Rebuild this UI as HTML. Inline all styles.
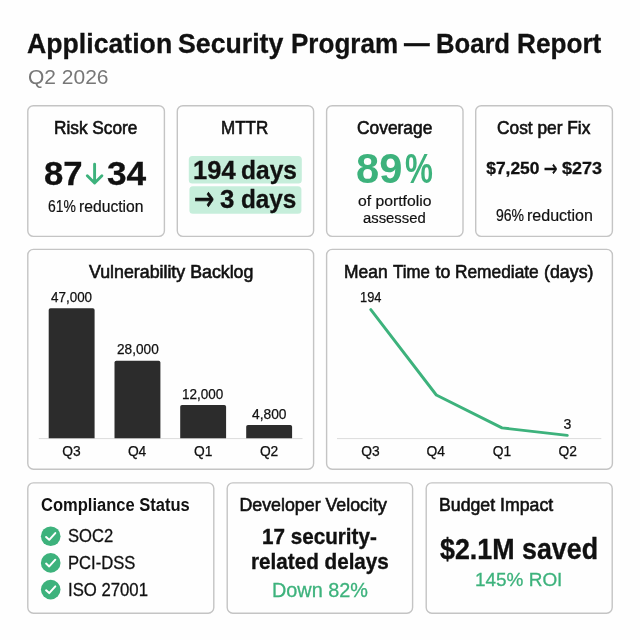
<!DOCTYPE html>
<html lang="en">
<head>
<meta charset="utf-8">
<title>Application Security Program — Board Report</title>
<style>
html,body{margin:0;padding:0;}
body{width:640px;height:640px;overflow:hidden;background:#fefefe;position:relative;font-family:"Liberation Sans",sans-serif;color:#111111;}
svg.g{position:absolute;left:0;top:0;}
.t{position:absolute;white-space:nowrap;line-height:1;transform-origin:0 0;}
</style>
</head>
<body>
<svg class="g" width="640" height="640" viewBox="0 0 640 640">
<g fill="none" stroke="#c4c4c4" stroke-width="1.4">
<rect x="27.8" y="105.7" width="136.60" height="130.70" rx="5.6" ry="5.6"/>
<rect x="177.3" y="105.7" width="136.30" height="130.70" rx="5.6" ry="5.6"/>
<rect x="326.6" y="105.7" width="136.40" height="130.70" rx="5.6" ry="5.6"/>
<rect x="475.7" y="105.7" width="136.70" height="130.70" rx="5.6" ry="5.6"/>
<rect x="27.8" y="249.4" width="285.80" height="219.80" rx="5.6" ry="5.6"/>
<rect x="326.6" y="249.4" width="285.80" height="219.80" rx="5.6" ry="5.6"/>
<rect x="27.8" y="482.9" width="186.00" height="130.30" rx="5.6" ry="5.6"/>
<rect x="227.2" y="482.9" width="185.40" height="130.30" rx="5.6" ry="5.6"/>
<rect x="426.2" y="482.9" width="186.00" height="130.30" rx="5.6" ry="5.6"/>
</g>
<g fill="#c6eedb">
<rect x="188.8" y="156" width="113" height="27.6" rx="3.5"/>
<rect x="189.4" y="186.3" width="112" height="27.5" rx="3.5"/>
</g>
<path d="M94.6 164.3V182.6M87.3 175.8l7.3 7.2 7.3-7.2" fill="none" stroke="#3db27c" stroke-width="2.9" stroke-linecap="round" stroke-linejoin="round"/>
<g stroke="#dcdcdc" stroke-width="1">
<line x1="38.8" y1="438.6" x2="302.5" y2="438.6"/>
<line x1="337" y1="438.6" x2="601.3" y2="438.6"/>
</g>
<g fill="#2c2c2c">
<path d="M48.7 438.3V310.05q0-1.8 1.8-1.8h42.30q1.8 0 1.8 1.8V438.3z"/>
<path d="M114.5 438.3V362.55q0-1.8 1.8-1.8h42.30q1.8 0 1.8 1.8V438.3z"/>
<path d="M180.2 438.3V406.8q0-1.8 1.8-1.8h42.30q1.8 0 1.8 1.8V438.3z"/>
<path d="M246.2 438.3V426.8q0-1.8 1.8-1.8h42.30q1.8 0 1.8 1.8V438.3z"/>
</g>
<polyline points="370.8,309.6 436.3,395 502,427.9 567.3,435.4" fill="none" stroke="#3db27c" stroke-width="2.9" stroke-linecap="round" stroke-linejoin="round"/>
<circle cx="50.7" cy="536.3" r="9.8" fill="#3db27c"/><path d="M46.1 537.00l3.1 2.8 6.1-6.7" fill="none" stroke="#fff" stroke-width="2" stroke-linecap="round" stroke-linejoin="round"/>
<circle cx="50.7" cy="562.9" r="9.8" fill="#3db27c"/><path d="M46.1 563.60l3.1 2.8 6.1-6.7" fill="none" stroke="#fff" stroke-width="2" stroke-linecap="round" stroke-linejoin="round"/>
<circle cx="50.7" cy="589.6" r="9.8" fill="#3db27c"/><path d="M46.1 590.30l3.1 2.8 6.1-6.7" fill="none" stroke="#fff" stroke-width="2" stroke-linecap="round" stroke-linejoin="round"/>
</svg>
<span class="t" style="left:27.22px;top:30.48px;font-size:28px;font-weight:700;-webkit-text-stroke:0.3px #111111;transform:scaleX(0.9524);">Application</span>
<span class="t" style="left:178.49px;top:30.48px;font-size:28px;font-weight:700;-webkit-text-stroke:0.3px #111111;transform:scaleX(0.9531);">Security</span>
<span class="t" style="left:290.87px;top:30.48px;font-size:28px;font-weight:700;-webkit-text-stroke:0.3px #111111;transform:scaleX(0.9298);">Program</span>
<span class="t" style="left:404.13px;top:29.48px;font-size:28px;font-weight:700;-webkit-text-stroke:0.3px #111111;transform:scaleX(0.9158);">—</span>
<span class="t" style="left:436.30px;top:30.48px;font-size:28px;font-weight:700;-webkit-text-stroke:0.3px #111111;transform:scaleX(0.9148);">Board</span>
<span class="t" style="left:516.66px;top:30.48px;font-size:28px;font-weight:700;-webkit-text-stroke:0.3px #111111;transform:scaleX(0.9348);">Report</span>
<span class="t" style="left:27.68px;top:66.70px;font-size:20.6px;color:#777777;transform:scaleX(1.0195);">Q2 2026</span>
<span class="t" style="left:53.79px;top:120.05px;font-size:17.8px;-webkit-text-stroke:0.6px #111111;transform:scaleX(0.9703);">Risk Score</span>
<span class="t" style="left:43.95px;top:157.28px;font-size:33px;font-weight:700;-webkit-text-stroke:0.3px #111111;transform:scaleX(1.0507);">87</span>
<span class="t" style="left:106.97px;top:157.28px;font-size:33px;font-weight:700;-webkit-text-stroke:0.3px #111111;transform:scaleX(1.0690);">34</span>
<span class="t" style="left:48.23px;top:198.90px;font-size:15.6px;-webkit-text-stroke:0.2px #111111;transform:scaleX(0.8933);">61%</span>
<span class="t" style="left:78.89px;top:198.90px;font-size:15.6px;-webkit-text-stroke:0.2px #111111;transform:scaleX(1.0056);">reduction</span>
<span class="t" style="left:221.30px;top:120.05px;font-size:17.8px;-webkit-text-stroke:0.6px #111111;transform:scaleX(0.9581);">MTTR</span>
<span class="t" style="left:192.74px;top:157.66px;font-size:25.4px;font-weight:700;-webkit-text-stroke:0.3px #111111;transform:scaleX(1.0061);">194</span>
<span class="t" style="left:241.43px;top:157.66px;font-size:25.4px;font-weight:700;-webkit-text-stroke:0.3px #111111;transform:scaleX(0.9661);">days</span>
<span class="t" style="left:194.15px;top:181.83px;font-size:23px;font-family:'DejaVu Sans',sans-serif;-webkit-text-stroke:0.5px #111111;transform:scale(1.0514,1.4667);">→</span>
<span class="t" style="left:220.39px;top:186.66px;font-size:25.4px;font-weight:700;-webkit-text-stroke:0.3px #111111;transform:scaleX(1.0196);">3</span>
<span class="t" style="left:240.64px;top:186.66px;font-size:25.4px;font-weight:700;-webkit-text-stroke:0.3px #111111;transform:scaleX(0.9571);">days</span>
<span class="t" style="left:357.01px;top:120.05px;font-size:17.8px;-webkit-text-stroke:0.6px #111111;transform:scaleX(0.9770);">Coverage</span>
<span class="t" style="left:355.77px;top:148.47px;font-size:42.3px;font-weight:700;color:#3db27c;transform:scaleX(0.9853);">89</span>
<span class="t" style="left:404.66px;top:148.47px;font-size:42.3px;font-weight:700;color:#3db27c;transform:scaleX(0.7423);">%</span>
<span class="t" style="left:357.99px;top:193.06px;font-size:15.4px;-webkit-text-stroke:0.2px #111111;transform:scaleX(1.0212);">of portfolio</span>
<span class="t" style="left:363.27px;top:210.06px;font-size:15.4px;-webkit-text-stroke:0.2px #111111;transform:scaleX(0.9646);">assessed</span>
<span class="t" style="left:497.01px;top:120.05px;font-size:17.8px;-webkit-text-stroke:0.6px #111111;transform:scaleX(0.9738);">Cost per Fix</span>
<span class="t" style="left:486.25px;top:160.38px;font-size:17.4px;font-weight:700;-webkit-text-stroke:0.3px #111111;">$7,250</span>
<span class="t" style="left:544.03px;top:158.36px;font-size:17px;font-family:'DejaVu Sans',sans-serif;-webkit-text-stroke:0.4px #111111;transform:scale(0.9608,1.3161);">→</span>
<span class="t" style="left:561.90px;top:160.38px;font-size:17.4px;font-weight:700;-webkit-text-stroke:0.3px #111111;transform:scaleX(1.0353);">$273</span>
<span class="t" style="left:495.93px;top:207.90px;font-size:15.6px;-webkit-text-stroke:0.2px #111111;transform:scaleX(0.9000);">96%</span>
<span class="t" style="left:526.77px;top:207.90px;font-size:15.6px;-webkit-text-stroke:0.2px #111111;transform:scaleX(1.0273);">reduction</span>
<span class="t" style="left:89.00px;top:264.05px;font-size:17.8px;-webkit-text-stroke:0.6px #111111;">Vulnerability Backlog</span>
<span class="t" style="left:344.48px;top:264.05px;font-size:17.8px;-webkit-text-stroke:0.6px #111111;transform:scaleX(0.9799);">Mean</span>
<span class="t" style="left:393.20px;top:264.05px;font-size:17.8px;-webkit-text-stroke:0.6px #111111;transform:scaleX(0.9464);">Time</span>
<span class="t" style="left:435.50px;top:264.05px;font-size:17.8px;-webkit-text-stroke:0.6px #111111;">to</span>
<span class="t" style="left:454.98px;top:264.05px;font-size:17.8px;-webkit-text-stroke:0.6px #111111;transform:scaleX(0.9733);">Remediate</span>
<span class="t" style="left:544.05px;top:264.05px;font-size:17.8px;-webkit-text-stroke:0.6px #111111;">(days)</span>
<span class="t" style="left:51.01px;top:289.56px;font-size:14.1px;-webkit-text-stroke:0.25px #111111;transform:scaleX(0.9529);">47,000</span>
<span class="t" style="left:117.02px;top:341.56px;font-size:14.1px;-webkit-text-stroke:0.25px #111111;transform:scaleX(0.9680);">28,000</span>
<span class="t" style="left:182.24px;top:386.91px;font-size:14.1px;-webkit-text-stroke:0.25px #111111;transform:scaleX(0.9593);">12,000</span>
<span class="t" style="left:251.96px;top:406.91px;font-size:14.1px;-webkit-text-stroke:0.25px #111111;transform:scaleX(0.9797);">4,800</span>
<span class="t" style="left:62.25px;top:444.66px;font-size:13.8px;-webkit-text-stroke:0.25px #111111;">Q3</span>
<span class="t" style="left:127.88px;top:444.66px;font-size:13.8px;-webkit-text-stroke:0.25px #111111;">Q4</span>
<span class="t" style="left:194.00px;top:444.66px;font-size:13.8px;-webkit-text-stroke:0.25px #111111;">Q1</span>
<span class="t" style="left:259.88px;top:444.66px;font-size:13.8px;-webkit-text-stroke:0.25px #111111;">Q2</span>
<span class="t" style="left:359.79px;top:289.56px;font-size:14.1px;-webkit-text-stroke:0.25px #111111;transform:scaleX(0.9124);">194</span>
<span class="t" style="left:563.62px;top:416.91px;font-size:14.1px;-webkit-text-stroke:0.2px #111111;">3</span>
<span class="t" style="left:361.25px;top:444.66px;font-size:13.8px;-webkit-text-stroke:0.25px #111111;">Q3</span>
<span class="t" style="left:426.62px;top:444.66px;font-size:13.8px;-webkit-text-stroke:0.25px #111111;">Q4</span>
<span class="t" style="left:492.75px;top:444.66px;font-size:13.8px;-webkit-text-stroke:0.25px #111111;">Q1</span>
<span class="t" style="left:558.62px;top:444.66px;font-size:13.8px;-webkit-text-stroke:0.25px #111111;">Q2</span>
<span class="t" style="left:41.30px;top:496.97px;font-size:17.6px;font-weight:700;transform:scaleX(0.9394);">Compliance Status</span>
<span class="t" style="left:67.81px;top:527.28px;font-size:18px;-webkit-text-stroke:0.3px #111111;transform:scaleX(0.9221);">SOC2</span>
<span class="t" style="left:67.85px;top:553.88px;font-size:18px;-webkit-text-stroke:0.3px #111111;transform:scaleX(0.9225);">PCI-DSS</span>
<span class="t" style="left:67.81px;top:580.88px;font-size:18px;-webkit-text-stroke:0.3px #111111;transform:scaleX(0.9290);">ISO 27001</span>
<span class="t" style="left:239.50px;top:497.25px;font-size:17.8px;-webkit-text-stroke:0.6px #111111;">Developer Velocity</span>
<span class="t" style="left:262.20px;top:525.86px;font-size:21.6px;font-weight:700;-webkit-text-stroke:0.35px #111111;transform:scaleX(0.9564);">17 security-</span>
<span class="t" style="left:250.90px;top:550.86px;font-size:21.6px;font-weight:700;-webkit-text-stroke:0.35px #111111;transform:scaleX(0.9570);">related delays</span>
<span class="t" style="left:272.06px;top:580.70px;font-size:19.4px;color:#3db27c;-webkit-text-stroke:0.3px #3db27c;transform:scaleX(1.0234);">Down 82%</span>
<span class="t" style="left:438.76px;top:497.25px;font-size:17.8px;-webkit-text-stroke:0.6px #111111;transform:scaleX(0.9956);">Budget Impact</span>
<span class="t" style="left:440.07px;top:534.64px;font-size:29px;font-weight:700;-webkit-text-stroke:0.35px #111111;transform:scaleX(0.9249);">$2.1M saved</span>
<span class="t" style="left:475.02px;top:569.87px;font-size:19.2px;color:#3db27c;-webkit-text-stroke:0.3px #3db27c;transform:scaleX(0.9872);">145% ROI</span>
</body>
</html>
